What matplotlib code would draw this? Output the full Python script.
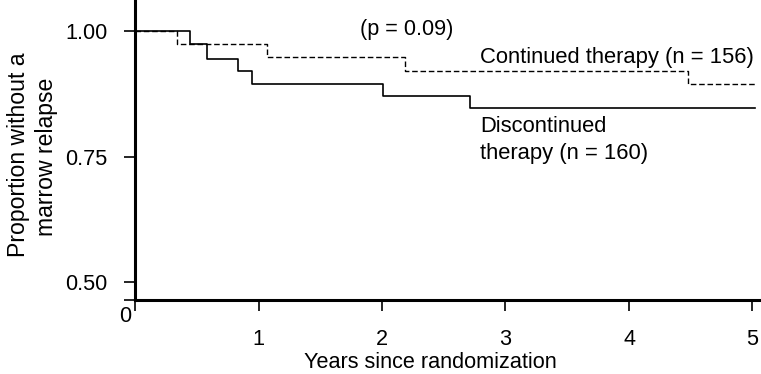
import matplotlib
matplotlib.use("Agg")
import matplotlib.pyplot as plt

plt.rcParams['font.family'] = ['Liberation Sans', 'DejaVu Sans']

# Step data (years, proportion without relapse)
disc_t = [0, 0.445, 0.58, 0.83, 0.95, 2.01, 2.71, 5.02]
disc_s = [1.00, 0.974, 0.944, 0.921, 0.894, 0.870, 0.846, 0.846]
cont_t = [0, 0.34, 1.07, 2.19, 4.48, 5.02]
cont_s = [1.00, 0.974, 0.949, 0.921, 0.894, 0.894]

xticks = [0, 1, 2, 3, 4, 5]
xticklabels = ['', '1', '2', '3', '4', '5']
yticks = [0.464, 0.50, 0.75, 1.00]
yticklabels = ['', '0.50', '0.75', '1.00']

W, H = 761, 374
FS = 15.6
X0, PPY = 135, 123.5  # pixel of x=0 and pixels per year
fig = plt.figure(figsize=(W/100, H/100), dpi=100)
ax = fig.add_axes([X0/W, 1-300/H, (W-X0)/W, 300/H])

ax.step(disc_t, disc_s, where='post', color='black', lw=1.2)
ax.step(cont_t, cont_s, where='post', color='black', lw=1.0, linestyle=(0, (4, 2)))

ax.set_xlim(0, (W-X0)/PPY)
ax.set_ylim(0.464, 1.062)
for s in ['top', 'right']:
    ax.spines[s].set_visible(False)
for s in ['left', 'bottom']:
    ax.spines[s].set_linewidth(2.2)
ax.set_xticks(xticks)
ax.set_xticklabels(xticklabels)
ax.set_yticks(yticks)
ax.set_yticklabels(yticklabels)
ax.tick_params(axis='both', direction='out', length=8, width=1.2, labelsize=FS)
ax.tick_params(axis='y', pad=12)
ax.tick_params(axis='x', pad=13)

def ftext(x, y, s, fs=FS, **kw):
    fig.text(x/W, 1-y/H, s, fontsize=fs, **kw)

ftext(125, 316, '0', ha='center', va='center')
ftext(360, 29, '(p = 0.09)', ha='left', va='center')
ftext(480, 58, 'Continued therapy (n = 156)', fs=15.8, ha='left', va='center')
ftext(480, 127, 'Discontinued', fs=15.8, ha='left', va='center')
ftext(480, 153, 'therapy (n = 160)', fs=15.8, ha='left', va='center')
ftext(430, 362, 'Years since randomization', ha='center', va='center')
ftext(19, 155, 'Proportion without a', fs=16.6, ha='center', va='center', rotation=90)
ftext(47, 157, 'marrow relapse', fs=16.6, ha='center', va='center', rotation=90)

fig.savefig('out.png', dpi=100)
